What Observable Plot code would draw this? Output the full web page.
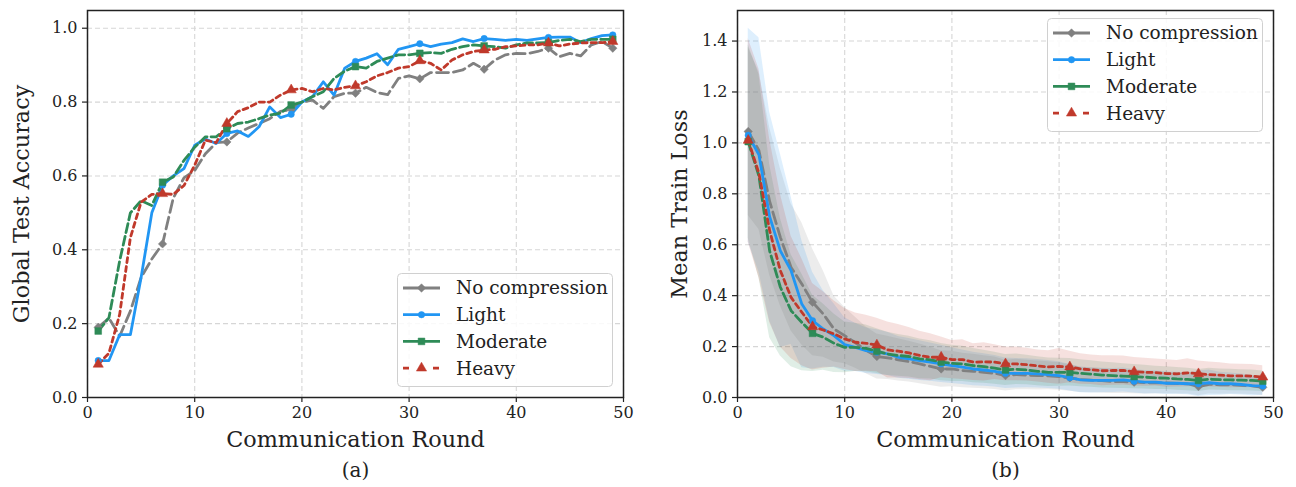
<!DOCTYPE html>
<html><head><meta charset="utf-8">
<script src="https://cdn.jsdelivr.net/npm/d3@7"></script>
<script src="https://cdn.jsdelivr.net/npm/@observablehq/plot@0.6"></script>
<style>
body{margin:0;background:#fff;}
#wrap{position:relative;width:1296px;height:487px;overflow:hidden;font-family:"DejaVu Serif",serif;}
.panel{position:absolute;top:0}
.panel text{font-family:"DejaVu Serif",serif;}
.legend{position:absolute}
</style></head>
<body><div id="wrap"></div>
<script>
const rounds = d3.range(1, 50);
const seriesNames = ["No compression", "Light", "Moderate", "Heavy"];
const seriesColors = ["#808080", "#2196f3", "#2e8b57", "#c0392b"];
const seriesDash = ["12,5", null, "9,4", "5,4"];
const seriesSymbols = ["diamond2", "circle", "square", "triangle"];
const markerRounds = [1, 7, 13, 19, 25, 31, 37, 43, 49];
const xTicks = [0, 10, 20, 30, 40, 50];
const accTicks = [0, 0.2, 0.4, 0.6, 0.8, 1.0];
const lossTicks = [0, 0.2, 0.4, 0.6, 0.8, 1.0, 1.2, 1.4];

// (a) Global test accuracy
const accNone = [0.19,0.215,0.166,0.234,0.325,0.375,0.416,0.54,0.595,0.615,0.66,0.69,0.692,0.716,0.73,0.742,0.755,0.775,0.78,0.80,0.805,0.783,0.815,0.824,0.824,0.84,0.826,0.82,0.864,0.871,0.863,0.88,0.88,0.88,0.887,0.905,0.889,0.914,0.928,0.932,0.931,0.937,0.946,0.923,0.932,0.925,0.955,0.964,0.946];
const accLight = [0.10,0.10,0.17,0.17,0.325,0.50,0.575,0.60,0.62,0.683,0.70,0.688,0.715,0.722,0.707,0.733,0.787,0.758,0.767,0.80,0.815,0.855,0.819,0.892,0.910,0.919,0.931,0.901,0.943,0.950,0.958,0.950,0.957,0.961,0.971,0.964,0.972,0.970,0.967,0.970,0.967,0.971,0.975,0.976,0.976,0.961,0.972,0.980,0.982];
const accModerate = [0.18,0.216,0.37,0.50,0.533,0.52,0.583,0.597,0.642,0.678,0.706,0.706,0.728,0.742,0.746,0.755,0.765,0.77,0.792,0.80,0.815,0.828,0.864,0.884,0.896,0.892,0.91,0.919,0.928,0.928,0.932,0.934,0.932,0.943,0.95,0.955,0.952,0.95,0.946,0.955,0.96,0.96,0.961,0.967,0.97,0.964,0.97,0.97,0.97];
const accHeavy = [0.09,0.12,0.225,0.433,0.529,0.55,0.552,0.55,0.574,0.629,0.697,0.69,0.742,0.774,0.785,0.80,0.80,0.819,0.833,0.837,0.828,0.837,0.833,0.84,0.844,0.855,0.871,0.88,0.892,0.896,0.912,0.905,0.887,0.914,0.928,0.937,0.941,0.943,0.95,0.952,0.955,0.955,0.96,0.952,0.957,0.96,0.961,0.961,0.964];

// (b) Mean train loss and its spread
const lossNone = [1.045,0.97,0.77,0.629,0.511,0.446,0.374,0.328,0.269,0.243,0.215,0.185,0.161,0.156,0.148,0.141,0.132,0.122,0.112,0.112,0.106,0.103,0.099,0.095,0.086,0.09,0.088,0.086,0.085,0.082,0.077,0.07,0.068,0.066,0.063,0.062,0.06,0.058,0.058,0.057,0.055,0.054,0.043,0.052,0.05,0.05,0.048,0.046,0.04];
const lossLight = [1.03,0.953,0.71,0.576,0.498,0.367,0.302,0.269,0.243,0.208,0.197,0.184,0.178,0.171,0.158,0.152,0.145,0.139,0.132,0.125,0.119,0.112,0.108,0.103,0.095,0.095,0.095,0.093,0.09,0.086,0.078,0.069,0.067,0.067,0.067,0.069,0.064,0.06,0.06,0.056,0.056,0.054,0.054,0.058,0.054,0.054,0.051,0.047,0.045];
const lossModerate = [1.005,0.87,0.575,0.433,0.341,0.295,0.252,0.237,0.213,0.197,0.197,0.193,0.182,0.171,0.165,0.161,0.152,0.148,0.139,0.134,0.132,0.125,0.121,0.115,0.108,0.111,0.108,0.103,0.099,0.099,0.099,0.095,0.092,0.088,0.086,0.084,0.082,0.08,0.077,0.076,0.073,0.071,0.067,0.072,0.07,0.069,0.068,0.067,0.064];
const lossHeavy = [1.01,0.88,0.655,0.498,0.393,0.335,0.278,0.265,0.25,0.23,0.217,0.213,0.206,0.187,0.182,0.175,0.165,0.158,0.158,0.149,0.149,0.139,0.14,0.139,0.132,0.132,0.129,0.124,0.12,0.122,0.12,0.112,0.109,0.105,0.106,0.106,0.101,0.099,0.098,0.094,0.093,0.097,0.093,0.09,0.088,0.085,0.085,0.084,0.08];
const stdNone = [0.33,0.31,0.29,0.27,0.25,0.24,0.21,0.17,0.13,0.11,0.10,0.092,0.088,0.085,0.083,0.080,0.078,0.075,0.072,0.070,0.068,0.067,0.065,0.064,0.060,0.060,0.058,0.057,0.055,0.054,0.052,0.050,0.049,0.048,0.047,0.046,0.045,0.044,0.043,0.042,0.041,0.040,0.036,0.038,0.037,0.036,0.035,0.034,0.032];
const stdLight = [0.42,0.46,0.41,0.38,0.29,0.25,0.19,0.15,0.125,0.105,0.095,0.090,0.088,0.085,0.082,0.080,0.078,0.075,0.073,0.070,0.068,0.066,0.064,0.062,0.060,0.058,0.057,0.056,0.055,0.054,0.052,0.050,0.049,0.048,0.047,0.047,0.046,0.046,0.045,0.044,0.043,0.043,0.050,0.050,0.045,0.042,0.041,0.040,0.036];
const stdModerate = [0.38,0.40,0.34,0.27,0.22,0.19,0.15,0.13,0.115,0.10,0.095,0.092,0.088,0.085,0.082,0.080,0.078,0.075,0.073,0.071,0.069,0.067,0.065,0.063,0.061,0.060,0.058,0.057,0.056,0.055,0.054,0.053,0.052,0.051,0.050,0.049,0.048,0.047,0.046,0.045,0.045,0.044,0.043,0.043,0.042,0.042,0.041,0.041,0.040];
const stdHeavy = [0.40,0.41,0.36,0.30,0.24,0.21,0.17,0.15,0.13,0.12,0.115,0.11,0.105,0.11,0.105,0.10,0.095,0.092,0.08,0.075,0.078,0.072,0.075,0.068,0.066,0.066,0.064,0.063,0.064,0.070,0.062,0.060,0.058,0.059,0.058,0.057,0.056,0.055,0.053,0.054,0.052,0.055,0.050,0.049,0.048,0.047,0.046,0.046,0.045];

const FONT = "DejaVu Serif";
const INK = "#222";

function rowsOf(values, stds) {
  return rounds.map((r, i) => ({round: r, y: values[i], lo: stds ? values[i] - stds[i] : null, hi: stds ? values[i] + stds[i] : null}));
}

function panel({series, stds, yDomain, yTicks, ylabel, ylabelOffset, tag, marginLeft, marginRight}) {
  const marks = [
    Plot.gridX(xTicks, {stroke: "#d6d6d6", strokeOpacity: 1, strokeWidth: 1.1, strokeDasharray: "5,3"}),
    Plot.gridY(yTicks, {stroke: "#d6d6d6", strokeOpacity: 1, strokeWidth: 1.1, strokeDasharray: "5,3"})
  ];
  const data = series.map((s, i) => rowsOf(s, stds ? stds[i] : null));
  if (stds) data.forEach((d, i) => marks.push(Plot.areaY(d, {x: "round", y1: "lo", y2: "hi", fill: seriesColors[i], fillOpacity: 0.15, clip: true})));
  data.forEach((d, i) => {
    const opts = {x: "round", y: "y", stroke: seriesColors[i], strokeWidth: 2.8};
    if (seriesDash[i]) opts.strokeDasharray = seriesDash[i];
    marks.push(Plot.line(d, opts));
  });
  data.forEach((d, i) => marks.push(Plot.dot(d.filter(p => markerRounds.includes(p.round)),
    {x: "round", y: "y", symbol: () => seriesSymbols[i], fill: seriesColors[i], stroke: seriesColors[i], strokeWidth: 0.5, r: i === 1 ? 3.2 : 3.8})));
  marks.push(
    Plot.axisX(xTicks, {tickSize: 5, tickPadding: 4, fontSize: 16, fontFamily: FONT, label: null, stroke: INK, fill: INK, strokeWidth: 1.2, tickFormat: d3.format("d")}),
    Plot.axisY(yTicks, {tickSize: 5, tickPadding: 5, fontSize: 16, fontFamily: FONT, label: null, stroke: INK, fill: INK, strokeWidth: 1.2, tickFormat: d3.format(".1f")}),
    Plot.frame({stroke: INK, strokeWidth: 1.5}),
    Plot.text(["Communication Round"], {frameAnchor: "bottom", dy: 49, fontSize: 22.3, fontFamily: FONT, fill: INK, textAnchor: "middle"}),
    Plot.text([ylabel], {frameAnchor: "left", dx: ylabelOffset, rotate: -90, fontSize: 22.3, fontFamily: FONT, fill: INK, textAnchor: "middle"}),
    Plot.text([tag], {frameAnchor: "bottom", dy: 79, fontSize: 20, fontFamily: FONT, fill: INK, textAnchor: "middle"})
  );
  return Plot.plot({
    width: 648, height: 487,
    marginTop: 10, marginBottom: 90, marginLeft, marginRight,
    style: {fontFamily: FONT, background: "transparent", overflow: "visible"},
    x: {domain: [0, 50]},
    y: {domain: yDomain},
    marks
  });
}

function legend(left, top) {
  const W = 216, H = 114;
  const svg = d3.create("svg").attr("class", "legend").attr("width", W).attr("height", H)
    .style("left", left + "px").style("top", top + "px");
  svg.append("rect").attr("x", 0.5).attr("y", 0.5).attr("width", W - 1).attr("height", H - 1)
    .attr("rx", 4).attr("fill", "rgba(255,255,255,0.85)").attr("stroke", "#d0d0d0");
  seriesNames.forEach((name, i) => {
    const y = 15 + i * 26.7;
    const line = svg.append("line").attr("x1", 6).attr("x2", 43).attr("y1", y).attr("y2", y)
      .attr("stroke", seriesColors[i]).attr("stroke-width", 2.8);
    if (i === 3) line.attr("stroke-dasharray", "6,24");
    const sym = {diamond2: d3.symbolDiamond2, circle: d3.symbolCircle, square: d3.symbolSquare, triangle: d3.symbolTriangle}[seriesSymbols[i]];
    const r = i === 1 ? 3.2 : 3.8;
    svg.append("path").attr("d", d3.symbol(sym, Math.PI * r * r)()).attr("transform", `translate(24.5,${y})`)
      .attr("fill", seriesColors[i]).attr("stroke", seriesColors[i]).attr("stroke-width", 0.5);
    svg.append("text").attr("x", 59).attr("y", y).attr("dy", "0.35em").attr("font-family", FONT)
      .attr("font-size", 18.5).attr("fill", INK).text(name);
  });
  return svg.node();
}

const wrap = document.getElementById("wrap");
const left = panel({series: [accNone, accLight, accModerate, accHeavy], stds: null, yDomain: [0, 1.048],
  yTicks: accTicks, ylabel: "Global Test Accuracy", ylabelOffset: -66, tag: "(a)", marginLeft: 87, marginRight: 25});
left.classList.add("panel"); left.style.left = "0px";
const right = panel({series: [lossNone, lossLight, lossModerate, lossHeavy], stds: [stdNone, stdLight, stdModerate, stdHeavy],
  yDomain: [0, 1.52], yTicks: lossTicks, ylabel: "Mean Train Loss", ylabelOffset: -58, tag: "(b)", marginLeft: 89, marginRight: 23});
right.classList.add("panel"); right.style.left = "648px";
wrap.appendChild(left);
wrap.appendChild(right);
wrap.appendChild(legend(397, 273));
wrap.appendChild(legend(1047, 18));
</script></body></html>
